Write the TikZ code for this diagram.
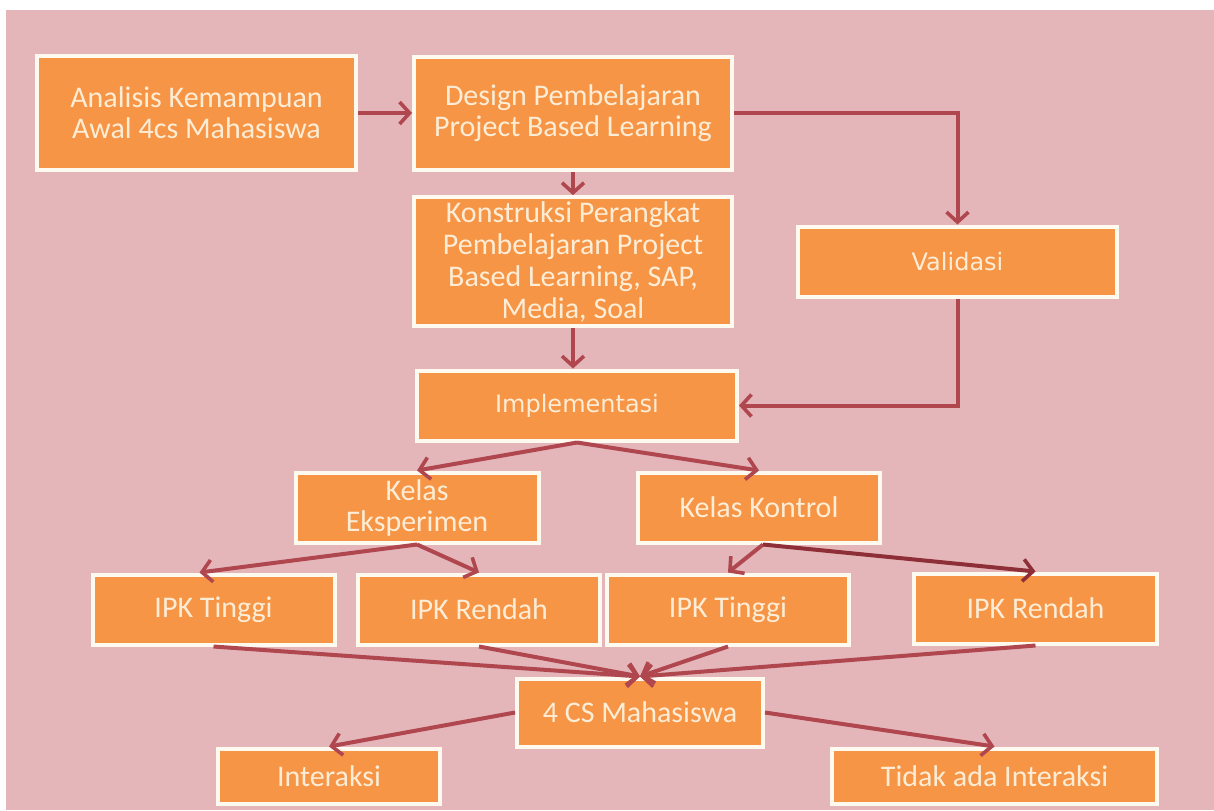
\documentclass[tikz,border=0pt]{standalone}
\usepackage{fontspec}
\usepackage{tikz}
\usetikzlibrary{positioning, arrows.meta, shadows}
\newfontfamily\carl{Carlito}
\newfontfamily\dejv{DejaVu Sans}
\definecolor{bgpink}{HTML}{E4B6BA}
\definecolor{boxfill}{HTML}{F69545}
\definecolor{boxedge}{HTML}{FFFAF0}
\definecolor{boxtext}{HTML}{FDEDD6}
\definecolor{linkred}{HTML}{B0474F}
\definecolor{linkdark}{HTML}{8E2E37}
\tikzset{node distance=51pt, % one row of the lower part
x=0.5pt, y=-0.5pt, % one unit is one pixel, y runs down
box/.style={ % the orange boxes
draw=boxedge, line width=2pt,
fill=boxfill, text=boxtext,
drop shadow={shadow xshift=1pt, shadow yshift=-1pt, opacity=0.25},
inner sep=2pt, align=center,
font=\carl\fontsize{15}{15.5}\selectfont},
wide/.style={font=\dejv\fontsize{12}{14}\selectfont}, % Validasi, Implementasi
link/.style={ % the red connectors
draw=linkred, line width=2pt,
-{Straight Barb[length=5pt, width=11pt, line width=1.8pt]}}}

\begin{document}
\begin{tikzpicture}

    \fill[white] (0,0) rectangle (1214,810);
    \fill[bgpink] (6,10) rectangle (1214,810);

    \node[box, minimum width=159.5pt, minimum height=57pt] (ana) at (196.5,113) {Analisis Kemampuan\\Awal 4cs Mahasiswa};
    \node[box, minimum width=159pt, minimum height=56.5pt, right of=ana, xshift=137.25pt] (des) {Design Pembelajaran\\Project Based Learning};
    \node[box, minimum width=159pt, minimum height=61pt, below of=des, yshift=-23.25pt,
        font=\carl\fontsize{15}{16}\selectfont] (kon) {Konstruksi Perangkat\\Pembelajaran Project\\Based Learning, SAP,\\Media, Soal};
    \node[box, wide, minimum width=159.5pt, minimum height=35pt, right of=kon, xshift=141.25pt] (val) {Validasi};
    \node[box, wide, minimum width=160pt, minimum height=35pt, below of=kon, xshift=2pt, yshift=-21pt] (imp) {Implementasi};
    \node[box, minimum width=121.5pt, minimum height=35pt, below of=imp, xshift=-80pt] (eks) {Kelas\\Eksperimen};
    \node[box, minimum width=121pt, minimum height=35pt, below of=imp, xshift=91pt] (ktr) {Kelas Kontrol};
    \node[box, minimum width=121pt, minimum height=35pt, below of=eks, xshift=-101.75pt] (ipkt1) {IPK Tinggi};
    \node[box, minimum width=121pt, minimum height=35pt, below of=eks, xshift=31pt] (ipkr1) {IPK Rendah};
    \node[box, minimum width=121pt, minimum height=35pt, below of=ktr, xshift=-15.5pt] (ipkt2) {IPK Tinggi};
    \node[box, minimum width=121.5pt, minimum height=35pt, below of=ktr, xshift=138.25pt, yshift=0.5pt] (ipkr2) {IPK Rendah};
    \node[box, minimum width=123pt, minimum height=34pt, below of=ipkr1, xshift=80.5pt, yshift=-0.5pt] (cs) {4 CS Mahasiswa};
    \node[box, minimum width=111pt, minimum height=27.5pt, below of=cs, xshift=-155.5pt, yshift=19.25pt] (int) {Interaksi};
    \node[box, minimum width=162.5pt, minimum height=27.5pt, below of=cs, xshift=177.25pt, yshift=19.25pt] (tid) {Tidak ada Interaksi};

    \draw[link] (ana) -- (des);
    \draw[link] (des.east) -| (val.north);
    \draw[link] (des) -- (kon);
    \draw[link] (kon.south) -- (kon.south |- imp.north);
    \draw[link] (val.south) |- (imp.east);
    \draw[link] (imp.south) -- (eks.north);
    \draw[link] (imp.south) -- (ktr.north);
    \draw[link] (eks.south) -- ([xshift=-7pt]ipkt1.north);
    \draw[link] (eks.south) -- (ipkr1.north);
    \draw[link] ([xshift=2pt]ktr.south) -- (ipkt2.north);
    \draw[link, draw=linkdark] ([xshift=2pt]ktr.south) -- (ipkr2.north);
    \draw[link] (ipkt1.south) -- (cs.north);
    \draw[link] (ipkr1.south) -- (cs.north);
    \draw[link] (ipkt2.south) -- (cs.north);
    \draw[link] (ipkr2.south) -- (cs.north);
    \draw[link] (cs.west) -- (int.north);
    \draw[link] (cs.east) -- (tid.north);

\end{tikzpicture}
\end{document}
